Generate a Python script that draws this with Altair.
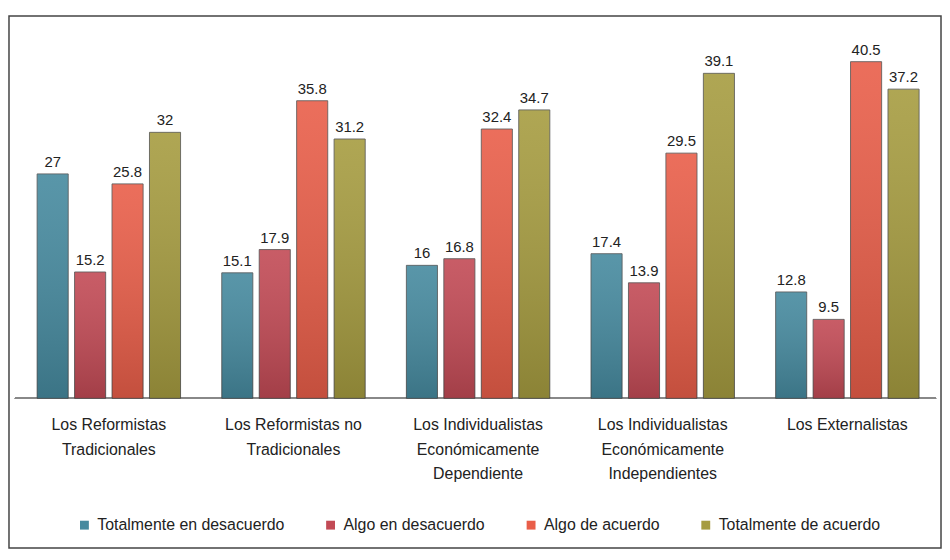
import altair as alt
import pandas as pd

groups = [
    "Los Reformistas|Tradicionales",
    "Los Reformistas no|Tradicionales",
    "Los Individualistas|Económicamente|Dependiente",
    "Los Individualistas|Económicamente|Independientes",
    "Los Externalistas",
]
series = [
    "Totalmente en desacuerdo",
    "Algo en desacuerdo",
    "Algo de acuerdo",
    "Totalmente de acuerdo",
]
totalmente_desacuerdo = [27, 15.1, 16, 17.4, 12.8]
algo_desacuerdo = [15.2, 17.9, 16.8, 13.9, 9.5]
algo_acuerdo = [25.8, 35.8, 32.4, 29.5, 40.5]
totalmente_acuerdo = [32, 31.2, 34.7, 39.1, 37.2]
colors = ["#468a9f", "#c24a55", "#e95e49", "#a69c40"]

rows = []
for s, vals in zip(series, [totalmente_desacuerdo, algo_desacuerdo, algo_acuerdo, totalmente_acuerdo]):
    for g, v in zip(groups, vals):
        rows.append({"grupo": g, "serie": s, "valor": v, "cero": 0, "lab": -2})
df = pd.DataFrame(rows)

xscale = alt.Scale(paddingInner=0, paddingOuter=0.024, align=0.85)
yscale = alt.Scale(domain=[-18, 46], nice=False, zero=False)
xoffscale = alt.Scale(paddingInner=0.17, paddingOuter=0.55)


def X():
    return alt.X("grupo:N", sort=groups, axis=None, scale=xscale)


def XO():
    return alt.XOffset("serie:N", sort=series, scale=xoffscale)


def Y(f):
    return alt.Y(f, scale=yscale, axis=None)


base = alt.Chart(df)

bars = base.mark_bar(stroke="#4a4a4a", strokeWidth=0.8).encode(
    x=X(),
    xOffset=XO(),
    y=Y("valor:Q"),
    y2="cero:Q",
    color=alt.Color(
        "serie:N", sort=series,
        scale=alt.Scale(domain=series, range=colors),
        legend=alt.Legend(
            title=None, orient="none", direction="horizontal",
            legendX=68, legendY=505, symbolType="square", symbolSize=80,
            symbolStrokeWidth=0, labelFontSize=16, labelFont="Liberation Sans",
            labelColor="#222222", columnPadding=38, labelOffset=5, labelLimit=400,
        ),
    ),
)

shade = base.mark_bar(
    color=alt.Gradient(
        gradient="linear", x1=0, y1=0, x2=0, y2=1,
        stops=[
            alt.GradientStop(offset=0, color="rgba(255,255,255,0.10)"),
            alt.GradientStop(offset=1, color="rgba(0,0,0,0.16)"),
        ],
    )
).encode(
    x=X(),
    xOffset=XO(),
    y=Y("valor:Q"),
    y2="cero:Q",
)

labels = base.mark_text(
    baseline="bottom", dy=-4, fontSize=15, font="Liberation Sans", color="#222222"
).encode(
    x=X(),
    xOffset=XO(),
    y=Y("valor:Q"),
    text=alt.Text("valor:Q"),
)

baseline = base.mark_rule(color="#888888", strokeWidth=1.5).encode(
    y=Y("cero:Q"), x=alt.value(6), x2=alt.value(934)
)

catlabels = base.transform_filter(
    alt.datum.serie == series[0]
).mark_text(
    baseline="top", fontSize=16, font="Liberation Sans", color="#222222",
    lineBreak="|", lineHeight=25, dy=2,
).encode(
    x=X(),
    y=Y("lab:Q"),
    text="grupo:N",
)

chart = alt.layer(baseline, bars, shade, labels, catlabels).properties(
    width=939, height=536,
    padding={"left": 1, "top": 6, "right": 1, "bottom": 1},
    autosize=alt.AutoSizeParams(type="none"),
    background="white",
).configure_view(stroke="#444444", strokeWidth=1.5)

chart.save("out.html", embed_options={"renderer": "svg", "actions": False})
